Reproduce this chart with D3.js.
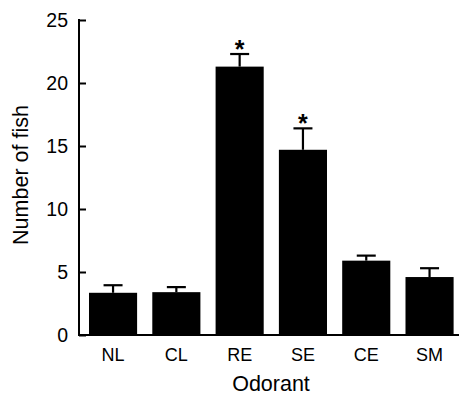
<!DOCTYPE html>
<html><head><meta charset="utf-8">
<script src="https://cdn.jsdelivr.net/npm/d3@7"></script>
<style>body{margin:0;background:#fff}svg{display:block}text{font-family:"Liberation Sans",Arial,sans-serif;fill:#000}</style>
</head><body>
<script>
const categories = ["NL","CL","RE","SE","CE","SM"];
const values = [3.35, 3.4, 21.3, 14.7, 5.9, 4.6];
const errors = [0.6, 0.4, 1.0, 1.7, 0.4, 0.7];
const significant = [false, false, true, true, false, false];
const yTicks = [0,5,10,15,20,25];

const W = 459, H = 395;
const svg = d3.select("body").append("svg").attr("width",W).attr("height",H);
const x = d3.scaleBand().domain(categories).range([81.4, 461.2]).paddingInner(0.24).paddingOuter(0.12);
const y = d3.scaleLinear().domain([0,25]).range([335,20]);
const x0 = 79;

// bars
svg.selectAll("rect.bar").data(categories).enter().append("rect")
  .attr("x", d=>x(d)).attr("width", x.bandwidth())
  .attr("y", (d,i)=>y(values[i])).attr("height",(d,i)=>y(0)-y(values[i]))
  .attr("fill","#000");
// error bars
const eb = svg.append("g").attr("stroke","#000").attr("stroke-width",2.2);
categories.forEach((c,i)=>{
  const cx = x(c)+x.bandwidth()/2;
  eb.append("line").attr("x1",cx).attr("x2",cx).attr("y1",y(values[i])).attr("y2",y(values[i]+errors[i]));
  eb.append("line").attr("x1",cx-9.5).attr("x2",cx+9.5).attr("y1",y(values[i]+errors[i])).attr("y2",y(values[i]+errors[i]));
  if (significant[i]) {
    svg.append("text").attr("x",cx).attr("y",y(values[i]+errors[i])+4)
      .attr("text-anchor","middle").attr("font-size",25).attr("font-weight","bold").text("*");
  }
});

// y axis
const ya = svg.append("g").attr("transform",`translate(${x0},0)`)
  .call(d3.axisRight(y).tickValues(yTicks).tickSize(7).tickFormat(""));
ya.select(".domain").remove();
ya.selectAll("line").attr("stroke-width",2);
svg.append("line").attr("x1",x0).attr("x2",x0).attr("y1",y(25)-1).attr("y2",y(0)+1).attr("stroke","#000").attr("stroke-width",2);
svg.selectAll("text.yt").data(yTicks).enter().append("text")
  .attr("x",68).attr("y",d=>y(d)).attr("dy","0.36em").attr("text-anchor","end")
  .attr("font-size",19.5).text(d=>d);
// x axis
svg.append("line").attr("x1",x0-1).attr("x2",459).attr("y1",y(0)).attr("y2",y(0)).attr("stroke","#000").attr("stroke-width",2);
svg.selectAll("text.xt").data(categories).enter().append("text")
  .attr("x",d=>x(d)+x.bandwidth()/2).attr("y",361).attr("text-anchor","middle")
  .attr("font-size",18).text(d=>d);
// titles
svg.append("text").attr("x",271).attr("y",391).attr("text-anchor","middle").attr("font-size",21.5).text("Odorant");
svg.append("text").attr("transform","translate(28,175) rotate(-90)").attr("text-anchor","middle").attr("font-size",21.5).text("Number of fish");
</script>
</body></html>
